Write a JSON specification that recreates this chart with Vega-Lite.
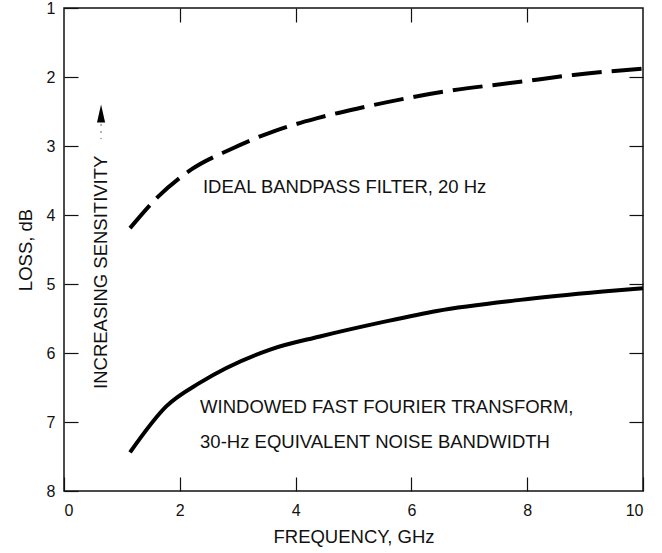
{
  "$schema": "https://vega.github.io/schema/vega-lite/v6.json",
  "width": 579,
  "height": 483,
  "autosize": {"type": "none"},
  "padding": {"left": 64, "top": 8, "right": 19, "bottom": 62},
  "background": "white",
  "config": {
    "font": "Liberation Sans",
    "view": {"stroke": "#111", "strokeWidth": 1.5},
    "axis": {
      "grid": false,
      "domain": false,
      "tickColor": "#111",
      "tickWidth": 1.2,
      "labelColor": "#111",
      "titleColor": "#111",
      "labelFont": "Liberation Sans",
      "titleFont": "Liberation Sans",
      "titleFontWeight": "normal",
      "labelFontSize": 16,
      "titleFontSize": 18.5
    }
  },
  "datasets": {
    "bandpass": [
      {"f": 1.14, "loss": 4.19},
      {"f": 1.63, "loss": 3.73},
      {"f": 2.2, "loss": 3.34},
      {"f": 2.87, "loss": 3.05},
      {"f": 3.61, "loss": 2.79},
      {"f": 4.36, "loss": 2.6},
      {"f": 5.11, "loss": 2.45},
      {"f": 6.58, "loss": 2.21},
      {"f": 7.88, "loss": 2.07},
      {"f": 8.8, "loss": 1.97},
      {"f": 10.0, "loss": 1.88}
    ],
    "fft": [
      {"f": 1.14, "loss": 7.44},
      {"f": 1.77, "loss": 6.77},
      {"f": 2.35, "loss": 6.43},
      {"f": 3.56, "loss": 5.95},
      {"f": 4.42, "loss": 5.76},
      {"f": 5.46, "loss": 5.56},
      {"f": 6.44, "loss": 5.39},
      {"f": 7.88, "loss": 5.23},
      {"f": 9.31, "loss": 5.11},
      {"f": 10.0, "loss": 5.06}
    ],
    "notes": [
      {"f": 2.4, "loss": 3.59, "text": "IDEAL BANDPASS FILTER, 20 Hz"},
      {"f": 2.35, "loss": 6.78, "text": "WINDOWED FAST FOURIER TRANSFORM,"},
      {"f": 2.35, "loss": 7.29, "text": "30-Hz EQUIVALENT NOISE BANDWIDTH"}
    ],
    "vnote": [
      {"f": 0.64, "loss": 4.83, "text": "INCREASING SENSITIVITY"}
    ],
    "arrow": [
      {"f": 0.64, "loss": 2.53, "loss2": 2.68, "loss3": 2.9}
    ]
  },
  "layer": [
    {
      "data": {"name": "bandpass"},
      "mark": {"type": "line", "color": "#000", "strokeWidth": 4, "strokeDash": [30, 10], "interpolate": "monotone"},
      "encoding": {
        "x": {"field": "f", "type": "quantitative", "scale": {"domain": [0, 10], "nice": false},
          "axis": {"orient": "bottom", "values": [0, 2, 4, 6, 8, 10], "tickSize": -14, "labelFontSize": 16, "labelPadding": 25, "title": "FREQUENCY, GHz", "titlePadding": 9}},
        "y": {"field": "loss", "type": "quantitative", "scale": {"domain": [1, 8], "reverse": true, "nice": false, "zero": false},
          "axis": {"orient": "left", "values": [1, 2, 3, 4, 5, 6, 7, 8], "tickSize": -14, "labelFontSize": 16, "labelPadding": 23, "title": "LOSS, dB", "titlePadding": 11}}
      }
    },
    {
      "data": {"name": "fft"},
      "mark": {"type": "line", "color": "#000", "strokeWidth": 4, "interpolate": "monotone"},
      "encoding": {
        "x": {"field": "f", "type": "quantitative",
          "axis": {"orient": "top", "values": [2, 4, 6, 8], "tickSize": -14, "labels": false, "title": null}},
        "y": {"field": "loss", "type": "quantitative",
          "axis": {"orient": "right", "values": [2, 3, 4, 5, 6, 7], "tickSize": -14, "labels": false, "title": null}}
      }
    },
    {
      "data": {"name": "notes"},
      "mark": {"type": "text", "align": "left", "baseline": "middle", "fontSize": 18.5, "font": "Liberation Sans", "color": "#111"},
      "encoding": {
        "x": {"field": "f", "type": "quantitative", "axis": null},
        "y": {"field": "loss", "type": "quantitative", "axis": null},
        "text": {"field": "text"}
      }
    },
    {
      "data": {"name": "vnote"},
      "mark": {"type": "text", "align": "center", "baseline": "middle", "angle": 270, "fontSize": 18.5, "font": "Liberation Sans", "color": "#111"},
      "encoding": {
        "x": {"field": "f", "type": "quantitative", "axis": null},
        "y": {"field": "loss", "type": "quantitative", "axis": null},
        "text": {"field": "text"}
      }
    },
    {
      "data": {"name": "arrow"},
      "mark": {"type": "point", "shape": "M0,-1L0.45,1L-0.45,1Z", "size": 324, "filled": true, "color": "#000", "opacity": 1},
      "encoding": {
        "x": {"field": "f", "type": "quantitative", "axis": null},
        "y": {"field": "loss", "type": "quantitative", "axis": null}
      }
    },
    {
      "data": {"name": "arrow"},
      "mark": {"type": "rule", "color": "#666", "strokeWidth": 1, "strokeDash": [2, 5]},
      "encoding": {
        "x": {"field": "f", "type": "quantitative", "axis": null},
        "y": {"field": "loss2", "type": "quantitative", "axis": null},
        "y2": {"field": "loss3"}
      }
    }
  ],
  "resolve": {"axis": {"x": "independent", "y": "independent"}}
}
